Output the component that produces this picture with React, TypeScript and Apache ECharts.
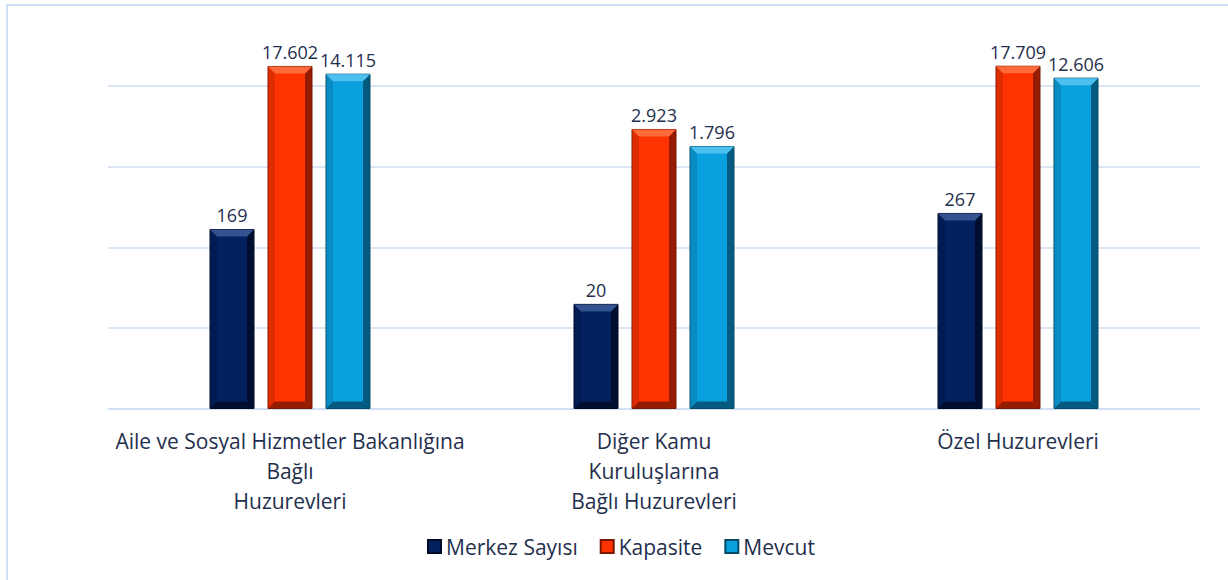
import React, { useEffect, useRef } from "react";
import * as echarts from "echarts";

const categories = [
  "Aile ve Sosyal Hizmetler Bakanlığına\nBağlı\nHuzurevleri",
  "Diğer Kamu\nKuruluşlarına\nBağlı Huzurevleri",
  "Özel Huzurevleri",
];
const seriesNames = ["Merkez Sayısı", "Kapasite", "Mevcut"];
const merkezSayisi = [169, 20, 267];
const kapasite = [17602, 2923, 17709];
const mevcut = [14115, 1796, 12606];

const fmt = (v: number) => String(v).replace(/\B(?=(\d{3})+(?!\d))/g, ".");

const palettes = [
  { base: "#03215f", light: "#34528f", dark: "#000a24", side: "#011642" },
  { base: "#ff3300", light: "#ff6a3a", dark: "#7a1600", side: "#b82400" },
  { base: "#0a9fde", light: "#4cc0ee", dark: "#034a66", side: "#06769f" },
];

export default function App() {
  const ref = useRef<HTMLDivElement>(null);
  useEffect(() => {
    if (!ref.current) return;
    const chart = echarts.init(ref.current, null, { renderer: "svg" });
    const textColor = "#1f2f4d";
    const font = "'Open Sans', Lato, sans-serif";
    const BW = 45;
    const GAP = 13;
    const mk = (idx: number, data: number[]) => ({
      name: seriesNames[idx],
      type: "bar",
      data,
      barWidth: BW,
      barGap: (GAP / BW) * 100 + "%",
      itemStyle: {
        color: palettes[idx].base,
        borderColor: palettes[idx].dark,
        borderWidth: 1,
      },
      label: {
        show: true,
        position: "top",
        distance: 5,
        color: textColor,
        fontSize: 18,
        fontFamily: font,
        formatter: (p: any) => fmt(p.value),
      },
    });
    const all = [merkezSayisi, kapasite, mevcut];
    const bevelData: number[][] = [];
    all.forEach((arr, s) => arr.forEach((v, c) => bevelData.push([c, v, s])));
    chart.setOption({
      animation: false,
      backgroundColor: "#ffffff",
      textStyle: { fontFamily: font },
      grid: { left: 108, right: 28, top: 5, bottom: 171, containLabel: false },
      legend: {
        bottom: 18,
        left: 422,
        itemWidth: 13,
        itemHeight: 13,
        itemGap: 22,
        icon: "rect",
        textStyle: { color: textColor, fontSize: 21, fontFamily: font },
        data: seriesNames,
      },
      xAxis: {
        type: "category",
        data: categories,
        axisLine: { show: true, lineStyle: { color: "#cfdef2", width: 1.5 } },
        axisTick: { show: false },
        axisLabel: {
          color: textColor,
          fontSize: 21,
          fontFamily: font,
          lineHeight: 30,
          margin: 17,
          interval: 0,
        },
      },
      yAxis: {
        type: "log",
        logBase: 10,
        min: 1,
        max: 100000,
        axisLine: { show: false },
        axisTick: { show: false },
        axisLabel: { show: false },
        splitLine: { lineStyle: { color: "#cfdef2", width: 1.5 } },
      },
      series: [
        mk(0, merkezSayisi),
        mk(1, kapasite),
        mk(2, mevcut),
        {
          type: "custom",
          silent: true,
          z: 5,
          data: bevelData,
          encode: { x: 0, y: 1 },
          renderItem: (params: any, api: any) => {
            const c = api.value(0);
            const v = api.value(1);
            const s = api.value(2);
            const top = api.coord([c, v]);
            const bottom = api.coord([c, 1]);
            const cx = top[0] + (s - 1) * (BW + GAP);
            const x0 = cx - BW / 2 + 0.5;
            const x1 = cx + BW / 2 - 0.5;
            const y0 = top[1] + 0.5;
            const yb = bottom[1] - 0.5;
            const b = 7;
            const p = palettes[s];
            return {
              type: "group",
              children: [
                {
                  type: "polygon",
                  shape: { points: [[x0, y0], [x0 + b, y0 + b], [x0 + b, yb - b], [x0, yb]] },
                  style: { fill: p.side, opacity: 0.45 },
                },
                {
                  type: "polygon",
                  shape: { points: [[x1, y0], [x1 - b, y0 + b], [x1 - b, yb - b], [x1, yb]] },
                  style: { fill: p.dark, opacity: 0.8 },
                },
                {
                  type: "polygon",
                  shape: { points: [[x0, y0], [x1, y0], [x1 - b, y0 + b], [x0 + b, y0 + b]] },
                  style: { fill: p.light },
                },
                {
                  type: "polygon",
                  shape: { points: [[x0, yb], [x1, yb], [x1 - b, yb - b], [x0 + b, yb - b]] },
                  style: { fill: p.dark, opacity: 0.8 },
                },
              ],
            };
          },
        },
      ],
    });
    return () => chart.dispose();
  }, []);
  return (
    <div style={{ position: "fixed", left: 0, top: 0, width: 1228, height: 580, background: "#fff" }}>
      <div ref={ref} style={{ position: "absolute", left: 0, top: 0, width: 1228, height: 580 }} />
      <div
        style={{
          position: "absolute",
          left: 6,
          top: 4,
          width: 1228,
          height: 600,
          borderLeft: "2px solid #cfdff2",
          borderTop: "2px solid #cfdff2",
          pointerEvents: "none",
        }}
      />
    </div>
  );
}
